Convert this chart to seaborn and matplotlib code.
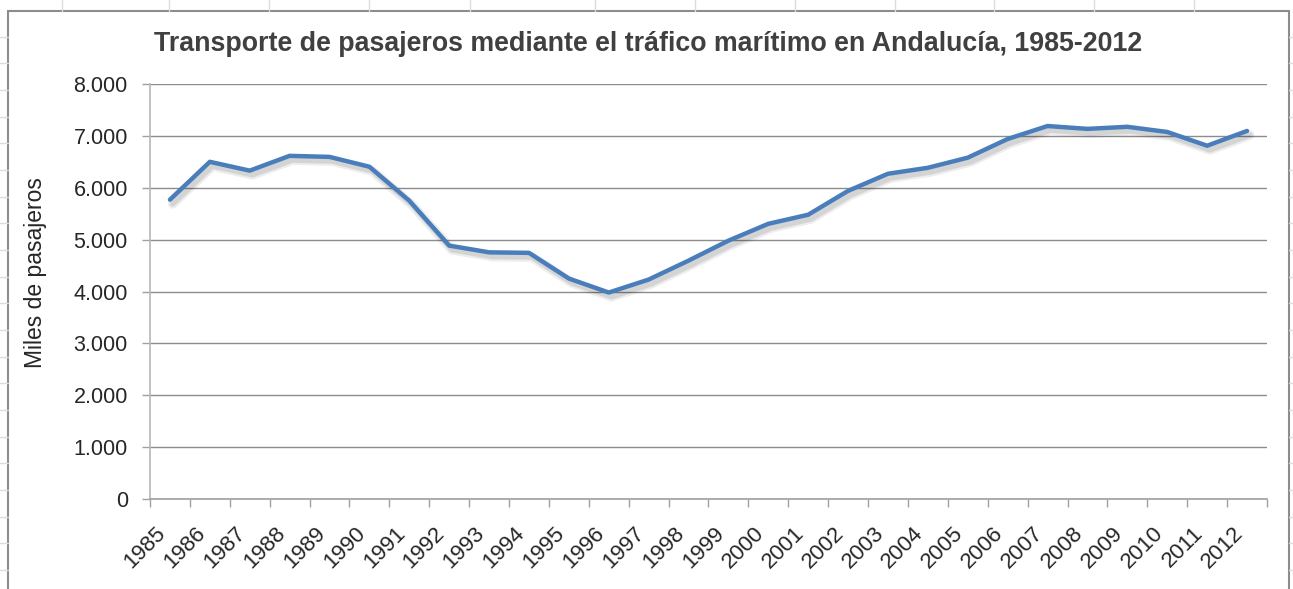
import numpy as np
import matplotlib
matplotlib.use("Agg")
import matplotlib.pyplot as plt
import matplotlib.patheffects as pe
from matplotlib.patches import Rectangle
from matplotlib.lines import Line2D
from matplotlib.ticker import FuncFormatter, FixedLocator
import pandas as pd
import seaborn as sns

# Datos (miles de pasajeros)
years = [str(y) for y in range(1985, 2013)]
pasajeros = [5770, 6500, 6330, 6615, 6595, 6405, 5750, 4885, 4755, 4745,
             4250, 3980, 4230, 4595, 4980, 5305, 5480, 5940, 6270, 6385,
             6580, 6940, 7190, 7135, 7175, 7075, 6810, 7095]
yticks = [0, 1000, 2000, 3000, 4000, 5000, 6000, 7000, 8000]

titulo = "Transporte de pasajeros mediante el tráfico marítimo en Andalucía, 1985-2012"
ylabel = "Miles de pasajeros"

sns.set_style("white")
plt.rcParams["font.family"] = ["Liberation Sans", "DejaVu Sans"]

W, H = 1293, 589
fig = plt.figure(figsize=(W / 100, H / 100), dpi=100)

# fondo tipo hoja de cálculo (líneas de celdas tenues)
for x in [62, 169, 269, 369, 470, 595, 695, 795, 895, 994, 1094, 1194]:
    fig.add_artist(Line2D([x / W, x / W], [1 - 11 / H, 1], color="#dcdcdc", lw=1))
for k in range(-6, 17):
    y = 170 + 26.67 * k
    if 11 < y < H:
        fig.add_artist(Line2D([0, 8 / W], [1 - y / H] * 2, color="#dcdcdc", lw=1))
        fig.add_artist(Line2D([1289 / W, 1], [1 - y / H] * 2, color="#dcdcdc", lw=1))

# marco del gráfico
fig.add_artist(Rectangle((8 / W, -0.05), (1289 - 8) / W, 1 - 11 / H + 0.05,
                         transform=fig.transFigure, fill=False,
                         edgecolor="#8c8c8c", lw=1.5))

ax = fig.add_axes([150 / W, 1 - 499 / H, (1267 - 150) / W, (499 - 84) / H])

df = pd.DataFrame({"anio": years, "pasajeros": pasajeros})
sombra = [pe.SimpleLineShadow(offset=(2, -3), shadow_color="black", alpha=0.07, linewidth=7),
          pe.SimpleLineShadow(offset=(2, -3), shadow_color="black", alpha=0.10, linewidth=4),
          pe.Normal()]
sns.lineplot(data=df, x="anio", y="pasajeros", ax=ax, color="#4a7ebb", lw=3.2,
             sort=False, path_effects=sombra)

ax.set_xlim(-0.5, len(years) - 0.5)
ax.set_ylim(0, 8000)
ax.set_yticks(yticks)
ax.yaxis.set_major_formatter(FuncFormatter(lambda v, p: f"{v:,.0f}".replace(",", ".")))
ax.grid(axis="y", color="#8c8c8c", lw=1)
ax.grid(axis="x", visible=False)
ax.set_axisbelow(True)

ax.set_xticks(range(len(years)))
ax.set_xticklabels(years, rotation=45, ha="right", va="top", fontsize=16)
ax.xaxis.set_minor_locator(FixedLocator(np.arange(-0.5, len(years), 1)))
ax.tick_params(axis="x", which="major", length=0, pad=17)
ax.tick_params(axis="x", which="minor", length=6, color="#a0a0a0", width=1, direction="out")
ax.tick_params(axis="y", length=6, color="#a0a0a0", width=1, pad=10,
               labelsize=15.5, direction="out", left=True)
ax.tick_params(axis="x", bottom=True, which="both")

for s in ["top", "right"]:
    ax.spines[s].set_visible(False)
ax.spines["left"].set_color("#b8b8b8")
ax.spines["bottom"].set_color("#a0a0a0")
ax.spines["left"].set_linewidth(1.2)
ax.spines["bottom"].set_linewidth(1.2)

ax.set_xlabel("")
ax.set_ylabel("")
fig.text(36 / W, 1 - 273 / H, ylabel, rotation=90, ha="center", va="center",
         fontsize=16.5)
fig.text(648 / W, 1 - 44 / H, titulo, ha="center", va="center", fontsize=19.3,
         fontweight="bold", color="#404040")

fig.savefig("out.png", dpi=100)
